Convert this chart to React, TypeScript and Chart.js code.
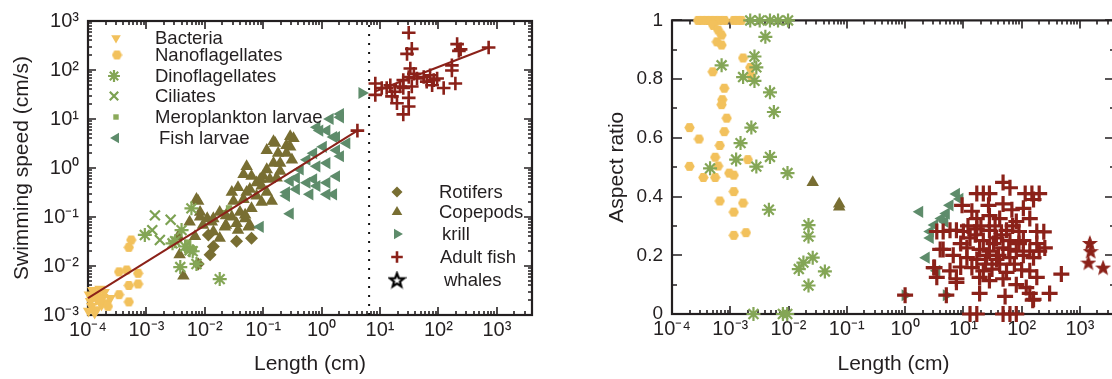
import React, { useEffect, useRef } from 'react';
import { Chart, registerables } from 'chart.js';
import { drawPoint } from 'chart.js/helpers';

Chart.register(...registerables);
Chart.defaults.font.family = '"Liberation Sans", Arial, Helvetica, sans-serif';

// ---------------- DATA: left panel (length cm, swimming speed cm/s) ----------------
const xDecades = [1e-4, 1e-3, 1e-2, 1e-1, 1, 10, 100, 1000];
const speedDecades = [1e-3, 1e-2, 1e-1, 1, 10, 100, 1000];
const aspectTicks = [0, 0.2, 0.4, 0.6, 0.8, 1];
const dividerLength = 6.5;

const bacteriaSpeed: [number, number][] = [
  [1.05e-4, 2.6e-3], [1.2e-4, 3.2e-3], [1.4e-4, 2.1e-3], [1.15e-4, 1.5e-3], [1.8e-4, 2.3e-3],
  [1.02e-4, 1.2e-3], [1.4e-4, 1.3e-3], [2.1e-4, 1.8e-3], [1.6e-4, 3.4e-3], [1.1e-4, 1.9e-3],
  [1.3e-4, 1.1e-3], [1.9e-4, 2.9e-3], [1.7e-4, 1.6e-3], [2.4e-4, 2.2e-3], [1.25e-4, 2.4e-3],
  [1.5e-4, 2.8e-3],
];
const nanoSpeed: [number, number][] = [
  [5.5e-4, 0.034], [5.0e-4, 0.024], [3.4e-4, 7.6e-3], [4.6e-4, 8.3e-3], [7.2e-4, 7.1e-3],
  [5.0e-4, 4.0e-3], [7.2e-4, 4.3e-3], [3.4e-4, 2.6e-3], [5.0e-4, 1.85e-3], [1.6e-4, 2.0e-3],
  [2.2e-4, 1.5e-3],
];
const dinoSpeed: [number, number][] = [
  [9.4e-4, 0.043], [4.0e-3, 0.054], [3.1e-3, 0.032], [5.9e-3, 0.15], [5.5e-3, 0.021],
  [2.8e-3, 0.029], [3.8e-3, 9.5e-3], [7.2e-3, 0.011], [0.018, 5.4e-3], [6.2e-3, 0.02],
  [4.6e-3, 0.025],
];
const ciliateSpeed: [number, number][] = [
  [1.4e-3, 0.108], [2.6e-3, 0.088], [1.26e-3, 0.054], [1.7e-3, 0.034],
];
const meroSpeed: [number, number][] = [
  [5.2e-3, 0.03], [6.5e-3, 0.022], [0.02, 0.12], [0.026, 0.15],
];
const copepodSpeed: [number, number][] = [
  [0.33, 4.0], [0.29, 2.7], [0.16, 3.2], [0.18, 2.0], [0.25, 2.0], [0.15, 1.26], [0.115, 0.93],
  [0.195, 1.26], [0.1, 0.68], [0.13, 0.59], [0.052, 1.08], [0.046, 0.74], [0.063, 0.68],
  [0.077, 0.5], [0.094, 0.43], [0.059, 0.37], [0.037, 0.4], [0.029, 0.32], [0.031, 0.21],
  [0.046, 0.23], [0.052, 0.32], [0.077, 0.27], [0.115, 0.32], [0.14, 0.21], [0.094, 0.2],
  [0.063, 0.15], [0.04, 0.126], [0.049, 0.093], [0.035, 0.074], [0.023, 0.107], [0.018, 0.126],
  [0.014, 0.093], [0.011, 0.093], [0.0083, 0.126], [0.0072, 0.23], [0.0093, 0.068],
  [0.0055, 0.079], [0.0068, 0.04], [0.014, 0.05], [0.023, 0.068], [0.018, 0.037],
  [0.059, 0.068], [0.089, 0.59], [0.195, 0.86], [0.17, 0.63], [0.25, 2.9], [0.31, 1.47],
  [0.0037, 0.017], [0.0043, 0.0063], [0.0077, 0.21], [0.0083, 0.1], [0.0132, 0.079],
  [0.022, 0.063], [0.029, 0.1], [0.037, 0.054], [0.056, 0.063], [0.049, 0.11], [0.0035, 0.04],
  [0.15, 3.5], [0.29, 4.4], [0.115, 2.3],
];
const rotiferSpeed: [number, number][] = [
  [0.0123, 0.017], [0.0077, 0.011], [0.014, 0.025], [0.0115, 0.043], [0.035, 0.032], [0.063, 0.037],
];
const fishLarvaeSpeed: [number, number][] = [
  [2.1, 10.8], [1.23, 5.8], [0.83, 6.8], [1.8, 4.3], [2.7, 3.2], [1.07, 2.7], [0.73, 2.0],
  [0.56, 1.47], [0.83, 1.08], [1.23, 1.26], [1.8, 0.68], [1.23, 0.5], [0.83, 0.43], [0.56, 0.5],
  [0.37, 0.37], [0.29, 0.54], [0.25, 0.32], [0.63, 0.29], [1.6, 0.29], [0.29, 0.117],
  [0.089, 0.063], [2.1, 1.74], [0.37, 0.63], [1.4, 10], [2.1, 12.6], [0.93, 5.8], [1.6, 4.3],
  [1.8, 2.3], [0.43, 0.93], [0.73, 0.59], [0.25, 0.27], [1.23, 0.29],
];
const krillSpeed: [number, number][] = [[4.9, 34]];
const adultFishSpeed: [number, number][] = [
  [31, 575], [35, 270], [29, 213], [209, 338], [224, 246], [240, 263], [724, 288], [170, 124],
  [170, 98], [195, 53], [123, 43], [33, 107], [38, 84], [31, 72], [43, 67], [56, 72], [72, 78],
  [63, 58], [83, 62], [78, 49], [95, 67], [25, 62], [35, 46], [22, 46], [15, 49], [13, 43],
  [18, 36], [8.3, 53], [8.3, 31], [10.7, 43], [16, 29], [19.5, 21], [31, 27], [31, 18],
  [25, 12.4], [25, 43], [4.1, 5.8],
];
const fitSmall: [number, number][] = [[1e-4, 2.2e-3], [4.1, 5.8]];
const fitFish: [number, number][] = [[8, 36], [724, 288]];

// ---------------- DATA: right panel (length cm, aspect ratio) ----------------
const nanoAspect: [number, number][] = [
  [2.8e-4, 1], [3.3e-4, 1], [3.9e-4, 1], [4.6e-4, 1], [5.5e-4, 1], [6.6e-4, 1], [8e-4, 1],
  [1.15e-3, 1], [1.35e-3, 1], [1.55e-3, 1],
  [5.1e-4, 0.983], [6.2e-4, 0.967], [7.1e-4, 0.95], [5.9e-4, 0.927], [7.1e-4, 0.916],
  [1.66e-3, 0.872], [5.0e-4, 0.825], [2.2e-3, 0.84], [2.3e-3, 0.81], [7.9e-4, 0.769],
  [7.3e-4, 0.73], [7.1e-4, 0.713], [8.7e-4, 0.667], [2.0e-4, 0.635], [7.9e-4, 0.621],
  [2.9e-4, 0.596], [6.6e-4, 0.574], [5.5e-4, 0.534], [6.2e-4, 0.504], [2.0e-4, 0.503],
  [3.45e-4, 0.465], [5.5e-4, 0.465], [9.6e-4, 0.48], [1.15e-3, 0.473], [2.0e-3, 0.526],
  [1.15e-3, 0.417], [6.6e-4, 0.385], [1.66e-3, 0.378], [1.15e-3, 0.347], [1.15e-3, 0.268],
  [1.86e-3, 0.277],
];
const dinoAspect: [number, number][] = [
  [2.2e-3, 1], [3.2e-3, 1], [4.8e-3, 1], [6.6e-3, 1], [9.8e-3, 1],
  [4.0e-3, 0.944], [2.6e-3, 0.877], [7.1e-4, 0.847], [2.8e-3, 0.84], [1.66e-3, 0.807],
  [2.6e-3, 0.794], [4.8e-3, 0.755], [5.6e-3, 0.688], [2.3e-3, 0.635], [1.5e-3, 0.582],
  [1.26e-3, 0.526], [4.8e-3, 0.535], [2.8e-3, 0.502], [4.5e-4, 0.496], [9.6e-3, 0.48],
  [4.6e-3, 0.355], [2.5e-3, 0], [8e-3, 0], [9.5e-3, 0],
  [0.022, 0.303], [0.022, 0.264], [0.026, 0.192], [0.018, 0.175], [0.015, 0.153],
  [0.042, 0.145], [0.022, 0.097],
];
const copepodAspect: [number, number][] = [[0.026, 0.448], [0.074, 0.365], [0.074, 0.375]];
const fishLarvaeAspect: [number, number][] = [
  [7.6, 0.409], [8.7, 0.392], [5.9, 0.37], [1.78, 0.348], [5.1, 0.342], [4.2, 0.325],
  [3.2, 0.303], [2.7, 0.281], [2.7, 0.259], [2.3, 0.192], [3.5, 0.147], [4.8, 0.314],
];
const krillAspect: [number, number][] = [[1.0, 0.064], [5.1, 0.064]];
const adultFishAspect: [number, number][] = [
  [48, 0.448], [63, 0.43], [17, 0.41], [22, 0.41], [28, 0.41], [115, 0.41], [150, 0.41],
  [200, 0.41], [160, 0.39], [9.5, 0.37], [14, 0.35], [27, 0.37], [48, 0.375], [68, 0.355],
  [107, 0.36], [138, 0.325], [81, 0.315], [42, 0.325], [28, 0.335], [17, 0.325], [3.5, 0.281],
  [4.5, 0.281], [5.9, 0.285], [7.6, 0.285], [10, 0.281], [17, 0.29], [28, 0.285], [55, 0.285],
  [90, 0.281], [182, 0.281], [13, 0.259], [22, 0.25], [37, 0.259], [63, 0.25], [107, 0.25],
  [182, 0.24], [250, 0.225], [11.5, 0.225], [19, 0.22], [28, 0.214], [48, 0.225], [81, 0.214],
  [138, 0.214], [200, 0.214], [4.5, 0.22], [6.7, 0.2], [11.5, 0.192], [17, 0.186], [25, 0.2],
  [37, 0.186], [63, 0.192], [107, 0.2], [160, 0.192], [3.1, 0.158], [5.9, 0.147], [7.6, 0.12],
  [3.5, 0.125], [14, 0.158], [22, 0.147], [31, 0.153], [55, 0.142], [138, 0.147], [182, 0.125],
  [480, 0.136], [19, 0.125], [28, 0.114], [48, 0.12], [81, 0.1], [120, 0.09], [19, 0.07],
  [52, 0.06], [138, 0.07], [160, 0.05], [302, 0.07], [1.0, 0.064], [5.1, 0.064], [13, 0],
  [17, 0], [48, 0], [63, 0], [81, 0], [4.0, 0.22], [3.2, 0.158], [7.6, 0.108], [155, 0.047],
  [20, 0.3], [35, 0.3], [70, 0.3], [12, 0.3], [45, 0.27], [90, 0.24], [33, 0.24], [60, 0.22],
  [24, 0.17], [42, 0.17], [75, 0.17], [100, 0.15], [9, 0.16], [9, 0.24], [40, 0.2], [16, 0.27],
  [240, 0.28],
];
const whaleAspect: [number, number][] = [[1480, 0.242], [1530, 0.214], [1400, 0.175], [2500, 0.158]];

// ---------------- STYLE ----------------
const YELLOW = '#F2C15C';
const DINO = '#84A656';
const CILI = '#7CA152';
const MERO = '#8BAA5A';
const TEAL = '#5E8C6B';
const OLIVE = '#786E32';
const RED = '#8B2119';
const INK = '#231f20';

function hexImage(color: string, d: number) {
  const c = document.createElement('canvas');
  c.width = d; c.height = d;
  const g = c.getContext('2d')!;
  g.fillStyle = color;
  g.beginPath();
  for (let i = 0; i < 6; i++) {
    const a = (Math.PI / 3) * i;
    const px = d / 2 + (d / 2 - 0.3) * Math.cos(a);
    const py = d / 2 + (d / 2 - 0.3) * Math.sin(a);
    if (i) g.lineTo(px, py); else g.moveTo(px, py);
  }
  g.closePath();
  g.fill();
  return c;
}
function starImage(fill: string | null, stroke: string, d: number, lw: number) {
  const c = document.createElement('canvas');
  c.width = d; c.height = d;
  const g = c.getContext('2d')!;
  const R = d / 2 - lw, r = R * 0.42;
  g.beginPath();
  for (let i = 0; i < 10; i++) {
    const a = -Math.PI / 2 + (Math.PI / 5) * i;
    const rr = i % 2 ? r : R;
    const px = d / 2 + rr * Math.cos(a), py = d / 2 + 0.6 + rr * Math.sin(a);
    if (i) g.lineTo(px, py); else g.moveTo(px, py);
  }
  g.closePath();
  if (fill) { g.fillStyle = fill; g.fill(); }
  g.lineJoin = 'miter';
  g.strokeStyle = stroke; g.lineWidth = lw; g.stroke();
  return c;
}

const hexSmall = hexImage(YELLOW, 11);
const whaleRed = starImage(RED, RED, 16, 1.2);
const whaleLegend = starImage('#ffffff', '#000000', 19, 2.2);

type Sty = { pointStyle: any; color: string; radius: number; rotation?: number; bw?: number };
const S: Record<string, Sty> = {
  bacteria: { pointStyle: 'triangle', rotation: 180, color: YELLOW, radius: 6.5, bw: 0 },
  nano: { pointStyle: hexSmall, color: YELLOW, radius: 5.5 },
  dino: { pointStyle: 'star', color: DINO, radius: 7, bw: 2.2 },
  cili: { pointStyle: 'crossRot', color: CILI, radius: 7, bw: 2.2 },
  mero: { pointStyle: 'rect', color: MERO, radius: 4.5, bw: 0 },
  fishLarvae: { pointStyle: 'triangle', rotation: 270, color: TEAL, radius: 7, bw: 0 },
  rotifer: { pointStyle: 'rectRot', color: OLIVE, radius: 6.5, bw: 0 },
  copepod: { pointStyle: 'triangle', rotation: 0, color: OLIVE, radius: 7.2, bw: 0 },
  krill: { pointStyle: 'triangle', rotation: 90, color: TEAL, radius: 7, bw: 0 },
  adult: { pointStyle: 'cross', color: RED, radius: 6.8, bw: 2.6 },
  adultBig: { pointStyle: 'cross', color: RED, radius: 8, bw: 3.2 },
  whale: { pointStyle: whaleRed, color: RED, radius: 8 },
};

function scatterSet(label: string, pts: [number, number][], st: Sty) {
  return {
    type: 'scatter' as const,
    label,
    data: pts.map(([x, y]) => ({ x, y })),
    pointStyle: st.pointStyle,
    rotation: st.rotation ?? 0,
    pointRadius: st.radius,
    backgroundColor: st.color,
    borderColor: st.color,
    borderWidth: st.bw ?? 0,
    showLine: false,
    clip: false as any,
  };
}
function lineSet(label: string, pts: [number, number][], color: string, width: number, dash: number[] = []) {
  return {
    type: 'line' as const,
    label,
    data: pts.map(([x, y]) => ({ x, y })),
    borderColor: color,
    borderWidth: width,
    borderDash: dash,
    pointRadius: 0,
    fill: false,
    showLine: true,
    tension: 0,
    clip: false as any,
  };
}

const SUP: Record<string, string> = { '-': '⁻', '0': '⁰', '1': '¹', '2': '²', '3': '³', '4': '⁴', '5': '⁵', '6': '⁶', '7': '⁷', '8': '⁸', '9': '⁹' };
const decadeLabel = (v: number) => '10' + String(Math.round(Math.log10(v))).split('').map((c) => SUP[c]).join('');
const plainLabel = (v: number) => String(Number(v.toFixed(1)));

type TickSpec = { v: number; major: boolean };
function logTickMarks(min: number, max: number): TickSpec[] {
  const out: TickSpec[] = [];
  for (let e = Math.floor(Math.log10(min)); e <= Math.ceil(Math.log10(max)); e++) {
    for (let k = 1; k <= 9; k++) {
      const v = k * Math.pow(10, e);
      if (v >= min * 0.999 && v <= max * 1.001) out.push({ v, major: k === 1 });
    }
  }
  return out;
}
function linTickMarks(min: number, max: number, step: number, majorEvery: number): TickSpec[] {
  const out: TickSpec[] = [];
  const n = Math.round((max - min) / step);
  for (let i = 0; i <= n; i++) out.push({ v: min + i * step, major: i % majorEvery === 0 });
  return out;
}

function framePlugin(xt: TickSpec[], yt: TickSpec[], yMajor: number, yMinor: number) {
  return {
    id: 'frame',
    beforeDatasetsDraw(chart: any) {
      const { ctx, chartArea: a } = chart;
      const xs = chart.scales.x, ys = chart.scales.y;
      ctx.save();
      ctx.strokeStyle = INK;
      ctx.lineWidth = 1.6;
      ctx.beginPath();
      for (const t of xt) {
        const p = Math.round(xs.getPixelForValue(t.v));
        const L = t.major ? 8 : 4;
        ctx.moveTo(p, a.bottom); ctx.lineTo(p, a.bottom - L);
        ctx.moveTo(p, a.top); ctx.lineTo(p, a.top + L);
      }
      for (const t of yt) {
        const p = Math.round(ys.getPixelForValue(t.v));
        const L = t.major ? yMajor : yMinor;
        ctx.moveTo(a.left, p); ctx.lineTo(a.left + L, p);
        ctx.moveTo(a.right, p); ctx.lineTo(a.right - L, p);
      }
      ctx.stroke();
      ctx.lineWidth = 2.2;
      ctx.strokeRect(a.left, a.top, a.right - a.left, a.bottom - a.top);
      ctx.restore();
    },
  };
}

type LegendEntry = { text: string; st: Sty; mx: number; tx: number; y: number; img?: any };
function legendPlugin(entries: LegendEntry[]) {
  return {
    id: 'boxlegend',
    afterDatasetsDraw(chart: any) {
      const { ctx } = chart;
      ctx.save();
      for (const e of entries) {
        ctx.fillStyle = e.st.color;
        ctx.strokeStyle = e.st.color;
        ctx.lineWidth = e.st.bw ?? 0;
        drawPoint(ctx, {
          pointStyle: e.img ?? e.st.pointStyle,
          rotation: e.st.rotation ?? 0,
          radius: e.st.radius * 0.85,
          borderWidth: e.st.bw ?? 0,
        } as any, e.mx, e.y);
        ctx.fillStyle = INK;
        ctx.font = '18.5px "Liberation Sans", Arial, sans-serif';
        ctx.textBaseline = 'middle';
        ctx.textAlign = 'left';
        ctx.fillText(e.text, e.tx, e.y + 1);
      }
      ctx.restore();
    },
  };
}

const X_MIN = 1e-4, X_MAX = 4000;

export default function App() {
  const leftRef = useRef<HTMLCanvasElement>(null);
  const rightRef = useRef<HTMLCanvasElement>(null);

  useEffect(() => {
    const tickFont = { size: 20 };
    const titleFont = { size: 21 };

    const left = new Chart(leftRef.current!, {
      type: 'scatter',
      data: {
        datasets: [
          lineSet('Fit small', fitSmall, RED, 2),
          lineSet('Fit fish', fitFish, RED, 2),
          lineSet('Divider', [[dividerLength, 1e-3], [dividerLength, 1e3]], '#111111', 2, [2, 7]),
          scatterSet('Adult fish', adultFishSpeed, S.adult),
          scatterSet('krill', krillSpeed, S.krill),
          scatterSet('Dinoflagellates', dinoSpeed, S.dino),
          scatterSet('Ciliates', ciliateSpeed, S.cili),
          scatterSet('Fish larvae', fishLarvaeSpeed, S.fishLarvae),
          scatterSet('Copepods', copepodSpeed, S.copepod),
          scatterSet('Rotifers', rotiferSpeed, S.rotifer),
          scatterSet('Meroplankton larvae', meroSpeed, S.mero),
          scatterSet('Nanoflagellates', nanoSpeed, S.nano),
          scatterSet('Bacteria', bacteriaSpeed, S.bacteria),
        ] as any,
      },
      options: {
        responsive: false,
        animation: false,
        devicePixelRatio: 1,
        events: [],
        layout: { padding: { top: 15, right: 28, left: 0, bottom: 0 } },
        plugins: { legend: { display: false }, tooltip: { enabled: false } },
        scales: {
          x: {
            type: 'logarithmic', min: X_MIN, max: X_MAX, position: 'bottom',
            grid: { display: false, drawTicks: false }, border: { display: false },
            ticks: { autoSkip: false, maxRotation: 0, padding: 3, color: INK, font: tickFont, callback: (v: any) => decadeLabel(Number(v)) },
            afterBuildTicks: (s: any) => { s.ticks = xDecades.map((v) => ({ value: v })); },
            afterFit: (s: any) => { s.height = 64; },
            title: { display: true, text: 'Length (cm)', color: INK, font: titleFont, padding: { top: 0, bottom: 2 } },
          },
          y: {
            type: 'logarithmic', min: 1e-3, max: 1e3, position: 'left',
            grid: { display: false, drawTicks: false }, border: { display: false },
            ticks: { autoSkip: false, padding: 9, color: INK, font: tickFont, callback: (v: any) => decadeLabel(Number(v)) },
            afterBuildTicks: (s: any) => { s.ticks = speedDecades.map((v) => ({ value: v })); },
            afterFit: (s: any) => { s.width = 88; },
            title: { display: true, text: 'Swimming speed (cm/s)', color: INK, font: titleFont, padding: { top: 10, bottom: 0 } },
          },
        } as any,
      },
      plugins: [
        framePlugin(logTickMarks(X_MIN, X_MAX), logTickMarks(1e-3, 1e3), 8, 4),
        legendPlugin([
          { text: 'Bacteria', st: S.bacteria, mx: 116, tx: 155, y: 38 },
          { text: 'Nanoflagellates', st: S.nano, mx: 117, tx: 155, y: 55 },
          { text: 'Dinoflagellates', st: S.dino, mx: 114, tx: 155, y: 76 },
          { text: 'Ciliates', st: S.cili, mx: 114, tx: 155, y: 96 },
          { text: 'Meroplankton larvae', st: S.mero, mx: 116, tx: 155, y: 117 },
          { text: 'Fish larvae', st: S.fishLarvae, mx: 116, tx: 159, y: 138 },
          { text: 'Rotifers', st: S.rotifer, mx: 397, tx: 439, y: 192 },
          { text: 'Copepods', st: S.copepod, mx: 397, tx: 439, y: 212 },
          { text: 'krill', st: S.krill, mx: 397, tx: 442, y: 234 },
          { text: 'Adult fish', st: S.adult, mx: 397, tx: 440, y: 257 },
          { text: 'whales', st: S.whale, mx: 397, tx: 444, y: 280, img: whaleLegend },
        ]),
      ],
    } as any);

    const right = new Chart(rightRef.current!, {
      type: 'scatter',
      data: {
        datasets: [
          scatterSet('Whales', whaleAspect, S.whale),
          scatterSet('Adult fish', adultFishAspect, S.adultBig),
          scatterSet('krill', krillAspect, S.krill),
          scatterSet('Fish larvae', fishLarvaeAspect, S.fishLarvae),
          scatterSet('Copepods', copepodAspect, S.copepod),
          scatterSet('Dinoflagellates', dinoAspect, S.dino),
          scatterSet('Nanoflagellates', nanoAspect, S.nano),
        ] as any,
      },
      options: {
        responsive: false,
        animation: false,
        devicePixelRatio: 1,
        events: [],
        layout: { padding: { top: 15, right: 25, left: 0, bottom: 0 } },
        plugins: { legend: { display: false }, tooltip: { enabled: false } },
        scales: {
          x: {
            type: 'logarithmic', min: X_MIN, max: X_MAX, position: 'bottom',
            grid: { display: false, drawTicks: false }, border: { display: false },
            ticks: { autoSkip: false, maxRotation: 0, padding: 3, color: INK, font: tickFont, callback: (v: any) => decadeLabel(Number(v)) },
            afterBuildTicks: (s: any) => { s.ticks = xDecades.map((v) => ({ value: v })); },
            afterFit: (s: any) => { s.height = 65; },
            title: { display: true, text: 'Length (cm)', color: INK, font: titleFont, padding: { top: 0, bottom: 2 } },
          },
          y: {
            type: 'linear', min: 0, max: 1, position: 'left',
            grid: { display: false, drawTicks: false }, border: { display: false },
            ticks: { autoSkip: false, padding: 9, color: INK, font: { size: 19 }, callback: (v: any) => plainLabel(Number(v)) },
            afterBuildTicks: (s: any) => { s.ticks = aspectTicks.map((v) => ({ value: v })); },
            afterFit: (s: any) => { s.width = 92; },
            title: { display: true, text: 'Aspect ratio', color: INK, font: titleFont, padding: { top: 25, bottom: 0 } },
          },
        } as any,
      },
      plugins: [framePlugin(logTickMarks(X_MIN, X_MAX), linTickMarks(0, 1, 0.1, 2), 10, 5)],
    } as any);

    return () => { left.destroy(); right.destroy(); };
  }, []);

  return (
    <div style={{ position: 'fixed', left: 0, top: 0, width: 1112, height: 379, overflow: 'hidden', background: '#ffffff' }}>
      <canvas ref={leftRef} width={560} height={379} style={{ position: 'absolute', left: 0, top: 0, width: 560, height: 379 }} />
      <canvas ref={rightRef} width={560} height={379} style={{ position: 'absolute', left: 580, top: 0, width: 560, height: 379 }} />
    </div>
  );
}
